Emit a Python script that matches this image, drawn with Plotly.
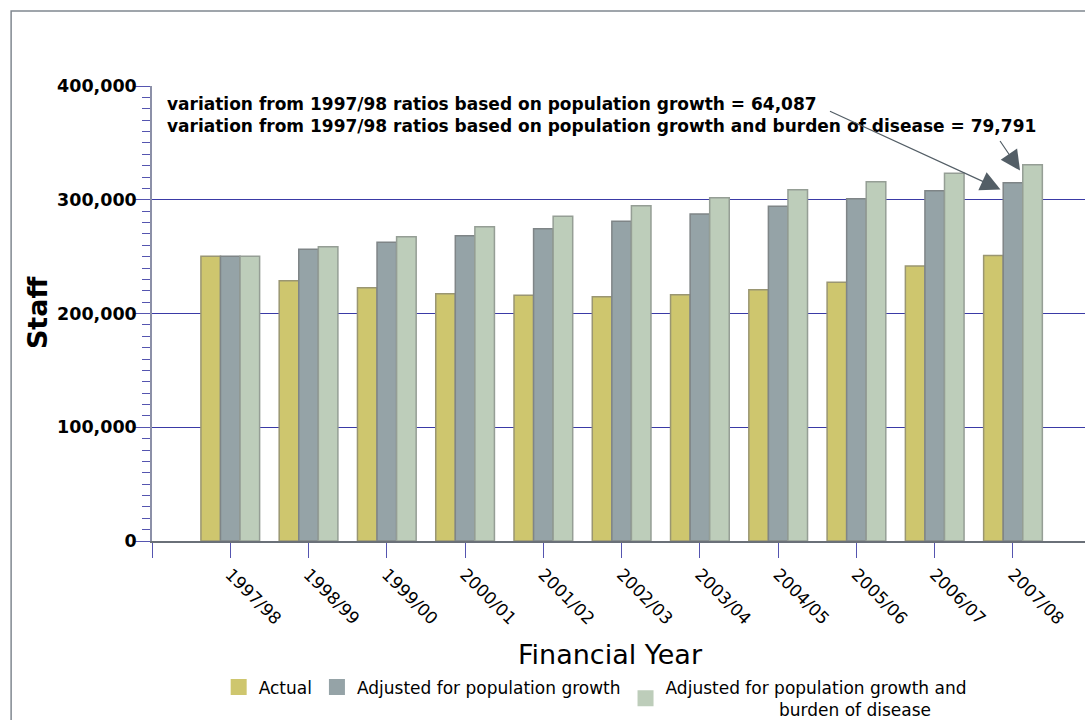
import plotly.graph_objects as go

categories = ["1997/98", "1998/99", "1999/00", "2000/01", "2001/02", "2002/03",
              "2003/04", "2004/05", "2005/06", "2006/07", "2007/08"]
actual = [250300, 228800, 222700, 217400, 216000, 214800, 216500, 220900, 227400, 241800, 250900]
adj_pop = [250300, 256400, 262600, 268400, 274600, 281000, 287500, 294200, 300900, 308000, 315000]
adj_pop_bod = [250300, 258700, 267500, 276300, 285400, 294800, 301800, 308800, 315900, 323200, 330700]

series_names = ["Actual", "Adjusted for population growth",
                "Adjusted for population growth and<br>" + "\u00a0" * 21 + "burden of disease"]
fill_colors = ["#CEC66E", "#95A3A7", "#BDCDBA"]
line_colors = ["#9A9672", "#7F8587", "#959E95"]

ann_lines = ["variation from 1997/98 ratios based on population growth = 64,087",
             "variation from 1997/98 ratios based on population growth and burden of disease = 79,791"]
x_title = "Financial Year"
y_title = "Staff"

FONT = "DejaVu Sans"
x_idx = list(range(len(categories)))

fig = go.Figure()
for vals, name, fc, lc in zip([actual, adj_pop, adj_pop_bod], series_names, fill_colors, line_colors):
    fig.add_trace(go.Bar(x=x_idx, y=vals, name=name, showlegend=False,
                         marker=dict(color=fc, line=dict(color=lc, width=1.5))))
    # legend swatch
    fig.add_trace(go.Scatter(x=[None], y=[None], mode="markers", name=name,
                             marker=dict(symbol="square", size=20, color=fc, line=dict(width=0))))

fig.update_layout(
    width=1085, height=720,
    margin=dict(l=152, r=0, t=86, b=179, autoexpand=False),
    paper_bgcolor="white", plot_bgcolor="white",
    barmode="group", bargap=0.25, bargroupgap=0,
    font=dict(family=FONT, color="black"),
    showlegend=True,
    legend=dict(orientation="h", x=0.475, xanchor="center", y=-0.2825, yanchor="top",
                font=dict(family=FONT, size=17), itemsizing="trace",
                traceorder="normal", valign="middle"),
    xaxis=dict(range=[-1.0, 10.92], tickvals=[-1] + x_idx, ticktext=[""] + categories,
               tickangle=45, tickfont=dict(family=FONT, size=17),
               ticks="outside", ticklen=15, tickcolor="#5555B0", tickwidth=1.2,
               showline=True, linecolor="#6A7078", linewidth=1.5,
               showgrid=False, zeroline=False, automargin=False),
    yaxis=dict(range=[0, 400000], dtick=100000, tickformat=",d",
               tickfont=dict(family=FONT, size=17.5, weight="bold"),
               ticks="outside", ticklen=15, tickcolor="#5555B0", tickwidth=1.2,
               ticklabelstandoff=-5,
               showline=True, linecolor="#8C90A8", linewidth=1.5,
               showgrid=True, gridcolor="#3A3AA6", gridwidth=1, zeroline=False,
               automargin=False,
               minor=dict(dtick=10000, ticks="outside", ticklen=8, tickcolor="#5555B0",
                          tickwidth=1.2, showgrid=False)),
)

fig.add_annotation(xref="paper", yref="paper", x=0.491, y=-0.2505, xanchor="center", yanchor="middle",
                   showarrow=False, text=x_title, font=dict(family=FONT, size=27, color="black"))
fig.add_annotation(xref="paper", yref="paper", x=-0.1233, y=0.503, xanchor="center", yanchor="middle",
                   showarrow=False, textangle=-90, text="<b>" + y_title + "</b>",
                   font=dict(family=FONT, size=27, color="black"))

fig.add_annotation(xref="paper", yref="paper", x=0.0139, y=0.987, xanchor="left", yanchor="top",
                   align="left", showarrow=False,
                   text="<b>" + ann_lines[0] + "<br>" + ann_lines[1] + "</b>",
                   font=dict(family=FONT, size=17, color="black"))

# arrows to the 2007/08 adjusted bars
last = len(categories) - 1
fig.add_annotation(x=last - 0.16, y=adj_pop[last] - 6000, xref="x", yref="y", text="",
                   showarrow=True, arrowhead=2, arrowsize=3.3, arrowwidth=1.2,
                   arrowcolor="#535E66", ax=-172, ay=-79, standoff=0)
fig.add_annotation(x=last + 0.09, y=adj_pop_bod[last] - 5000, xref="x", yref="y", text="",
                   showarrow=True, arrowhead=2, arrowsize=3.3, arrowwidth=1.2,
                   arrowcolor="#535E66", ax=-21, ay=-31, standoff=0)

# outer frame
fig.add_shape(type="rect", xref="paper", yref="paper", x0=-0.151, y0=-0.45, x1=1.05, y1=1.165,
              line=dict(color="#808890", width=1.5), layer="below")

fig.write_html("out.html", config={"displayModeBar": False},
               post_script="document.body.style.margin='0px';")
